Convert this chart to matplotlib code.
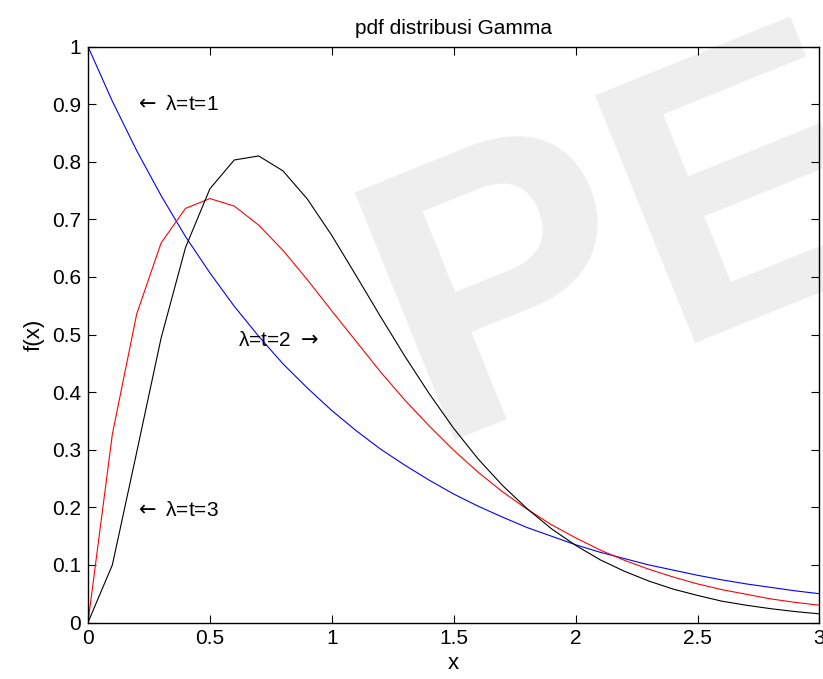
import matplotlib
matplotlib.use("Agg")
import matplotlib.pyplot as plt

plt.rcParams['font.family'] = ['Liberation Sans', 'DejaVu Sans']
plt.rcParams['mathtext.fontset'] = 'dejavusans'

x = [0.0, 0.1, 0.2, 0.3, 0.4, 0.5, 0.6, 0.7, 0.8, 0.9, 1.0,
     1.1, 1.2, 1.3, 1.4, 1.5, 1.6, 1.7, 1.8, 1.9, 2.0,
     2.1, 2.2, 2.3, 2.4, 2.5, 2.6, 2.7, 2.8, 2.9, 3.0]

f_t1 = [1.000, 0.905, 0.819, 0.741, 0.670, 0.607, 0.549, 0.497, 0.449, 0.407, 0.368,
        0.333, 0.301, 0.273, 0.247, 0.223, 0.202, 0.183, 0.165, 0.150, 0.135,
        0.122, 0.111, 0.100, 0.091, 0.082, 0.074, 0.067, 0.061, 0.055, 0.050]

f_t2 = [0.000, 0.327, 0.536, 0.659, 0.719, 0.736, 0.723, 0.690, 0.646, 0.595, 0.541,
        0.488, 0.435, 0.386, 0.341, 0.299, 0.261, 0.227, 0.197, 0.170, 0.147,
        0.126, 0.108, 0.0925, 0.079, 0.067, 0.057, 0.049, 0.041, 0.035, 0.030]

f_t3 = [0.000, 0.100, 0.296, 0.494, 0.651, 0.753, 0.803, 0.810, 0.784, 0.735, 0.672,
        0.602, 0.531, 0.462, 0.397, 0.337, 0.284, 0.238, 0.198, 0.163, 0.134,
        0.109, 0.089, 0.072, 0.058, 0.047, 0.037, 0.030, 0.024, 0.019, 0.015]

xticks = [0, 0.5, 1, 1.5, 2, 2.5, 3]
xticklabels = ["0", "0.5", "1", "1.5", "2", "2.5", "3"]
yticks = [0, 0.1, 0.2, 0.3, 0.4, 0.5, 0.6, 0.7, 0.8, 0.9, 1.0]
yticklabels = ["0", "0.1", "0.2", "0.3", "0.4", "0.5", "0.6", "0.7", "0.8", "0.9", "1"]

fig = plt.figure(figsize=(8.23, 6.79), dpi=100)
fig.patch.set_facecolor('white')

# watermark
fig.text(0.521, 0.352, "PE", fontsize=280, fontweight='bold', color='#eeeeee',
         rotation=22, rotation_mode='anchor', ha='left', va='baseline', zorder=0,
         family=['Liberation Sans', 'DejaVu Sans'])

ax = fig.add_axes([0.1069, 0.0832, 0.8888, 0.8483])
ax.patch.set_alpha(0)
ax.set_zorder(1)

ax.plot(x, f_t1, color='#0000ff', lw=0.8)
ax.plot(x, f_t2, color='#ff0000', lw=0.8)
ax.plot(x, f_t3, color='#000000', lw=0.8)

ax.set_xlim(0, 3)
ax.set_ylim(0, 1)
ax.set_xticks(xticks)
ax.set_xticklabels(xticklabels)
ax.set_yticks(yticks)
ax.set_yticklabels(yticklabels)
ax.tick_params(direction='in', length=6, width=0.8, top=True, right=True,
               labelsize=15, pad=5)
for s in ax.spines.values():
    s.set_linewidth(1.0)

ax.set_title("pdf distribusi Gamma", fontsize=15, pad=9)
ax.set_xlabel("x", fontsize=16, labelpad=3)
ax.set_ylabel("f(x)", fontsize=16, labelpad=5)

ax.text(0.19, 0.9, r"$\leftarrow$ " + "\u03bb=t=1", fontsize=15, ha='left', va='center')
ax.text(0.615, 0.49, "\u03bb=t=2 " + r"$\rightarrow$", fontsize=15, ha='left', va='center')
ax.text(0.19, 0.195, r"$\leftarrow$ " + "\u03bb=t=3", fontsize=15, ha='left', va='center')

fig.savefig("out.png", dpi=100)
